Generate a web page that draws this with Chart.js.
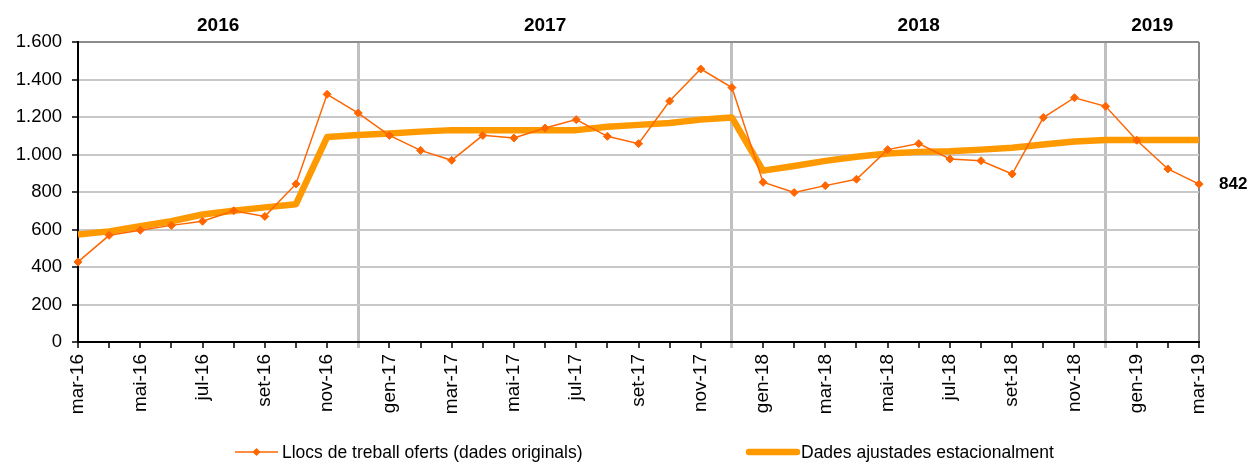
<!DOCTYPE html>
<html>
<head>
<meta charset="utf-8">
<script src="https://cdn.jsdelivr.net/npm/chart.js@4"></script>
<style>
	body { margin: 0; background: #fff; }
	canvas { display: block; }
</style>
</head>
<body>
<canvas id="chart" width="1252" height="464"></canvas>
<script>
const months = [
	'mar-16', 'abr-16', 'mai-16', 'jun-16', 'jul-16', 'ago-16', 'set-16', 'oct-16', 'nov-16', 'des-16',
	'gen-17', 'feb-17', 'mar-17', 'abr-17', 'mai-17', 'jun-17', 'jul-17', 'ago-17', 'set-17', 'oct-17', 'nov-17', 'des-17',
	'gen-18', 'feb-18', 'mar-18', 'abr-18', 'mai-18', 'jun-18', 'jul-18', 'ago-18', 'set-18', 'oct-18', 'nov-18', 'des-18',
	'gen-19', 'feb-19', 'mar-19',
];
const original = [
	427, 569, 596, 622, 644, 700, 670, 843, 1321, 1221,
	1102, 1022, 969, 1102, 1088, 1141, 1186, 1097, 1058, 1285, 1456, 1357,
	852, 797, 834, 868, 1026, 1058, 976, 967, 896, 1197, 1303, 1257,
	1076, 923, 842,
];
const adjusted = [
	573, 590, 617, 644, 680, 700, 718, 735, 1093, 1104,
	1112, 1122, 1130, 1130, 1130, 1130, 1130, 1148, 1158, 1168, 1186, 1197,
	914, 939, 966, 988, 1005, 1014, 1017, 1026, 1036, 1053, 1069, 1077,
	1077, 1077, 1077,
];
const years = ['2016', '2017', '2018', '2019'];
// year boundaries as month indexes (separators sit on des-16, des-17, des-18)
const yearBounds = [0, 9, 21, 33, 36];
const separators = [9, 21, 33];

const FONT = '"Liberation Sans", Arial, sans-serif';
Chart.defaults.font.family = FONT;
Chart.defaults.color = '#000';

function thousands(v) {
	return String(v).replace(/\B(?=(\d{3})+(?!\d))/g, '.');
}

const extras = {
	id: 'extras',
	afterDraw: function(chart) {
		const ctx = chart.ctx;
		const x = chart.scales.x;
		const y = chart.scales.y;
		ctx.save();
		// year labels above the plot
		ctx.font = 'bold 19px ' + FONT;
		ctx.fillStyle = '#000';
		ctx.textAlign = 'center';
		ctx.textBaseline = 'middle';
		for(let i = 0; i < years.length; i++) {
			let a = x.getPixelForValue(yearBounds[i]);
			let b = x.getPixelForValue(yearBounds[i + 1]);
			ctx.fillText(years[i], (a + b) / 2, 26);
		}
		// last value label
		let last = original.length - 1;
		ctx.font = 'bold 17px ' + FONT;
		ctx.textAlign = 'left';
		ctx.fillText(thousands(original[last]), x.getPixelForValue(last) + 20, y.getPixelForValue(original[last]));

		// legend, drawn from the datasets
		const items = [{x: 235, w: 43}, {x: 749, w: 48}];
		const ly = 452;
		ctx.font = '17.5px ' + FONT;
		chart.data.datasets.forEach((ds, i) => {
			let it = items[i];
			ctx.strokeStyle = ds.borderColor;
			ctx.lineWidth = ds.borderWidth;
			ctx.lineCap = i == 1 ? 'round' : 'butt';
			ctx.beginPath();
			ctx.moveTo(it.x, ly);
			ctx.lineTo(it.x + it.w, ly);
			ctx.stroke();
			if(ds.pointRadius > 0) {
				let cx = it.x + it.w / 2;
				let r = ds.pointRadius;
				ctx.fillStyle = ds.pointBackgroundColor;
				ctx.beginPath();
				ctx.moveTo(cx, ly - r);
				ctx.lineTo(cx + r, ly);
				ctx.lineTo(cx, ly + r);
				ctx.lineTo(cx - r, ly);
				ctx.closePath();
				ctx.fill();
			}
			ctx.fillStyle = '#000';
			ctx.textAlign = 'left';
			ctx.fillText(ds.label, it.x + it.w + 4, ly + 1);
		});
		ctx.restore();
	},
};

const config = {
	type: 'line',
	data: {
		labels: months,
		datasets: [{
			label: 'Llocs de treball oferts (dades originals)',
			data: original,
			borderColor: '#FF6600',
			backgroundColor: '#FF6600',
			borderWidth: 1.5,
			pointStyle: 'rectRot',
			pointRadius: 4,
			pointBackgroundColor: '#FF6600',
			pointBorderColor: '#FF6600',
			pointBorderWidth: 1,
			tension: 0,
			fill: false,
		}, {
			label: 'Dades ajustades estacionalment',
			data: adjusted,
			borderColor: '#FF9900',
			backgroundColor: '#FF9900',
			borderWidth: 6.5,
			borderJoinStyle: 'round',
			pointRadius: 0,
			tension: 0,
			fill: false,
		}],
	},
	options: {
		responsive: false,
		animation: false,
		devicePixelRatio: 1,
		layout: {
			padding: {top: 42, right: 53, left: 0, bottom: 0},
		},
		plugins: {
			legend: {display: false},
			tooltip: {enabled: false},
		},
		scales: {
			x: {
				offset: false,
				afterFit: function(scale) {
					scale.height = 122;
				},
				border: {color: '#000', width: 2},
				grid: {
					drawOnChartArea: true,
					tickLength: 6,
					color: (c) => separators.includes(c.index) ? '#c0c0c0' : (c.index == months.length - 1 ? '#8c8c8c' : 'rgba(0,0,0,0)'),
					lineWidth: (c) => separators.includes(c.index) ? 3 : 2,
					tickColor: (c) => separators.includes(c.index) ? '#c0c0c0' : '#000',
					tickWidth: (c) => separators.includes(c.index) ? 3 : 1.5,
				},
				ticks: {
					autoSkip: false,
					maxRotation: 90,
					minRotation: 90,
					padding: 6,
					font: {size: 19},
					color: '#000',
					callback: function(value, index) {
						return index % 2 == 0 ? this.getLabelForValue(value) : '';
					},
				},
			},
			y: {
				min: 0,
				max: 1600,
				afterFit: function(scale) {
					scale.width = 78;
				},
				border: {color: '#000', width: 2},
				grid: {
					tickLength: 6,
					color: (c) => c.tick && c.tick.value == 1600 ? '#8c8c8c' : '#c8c8c8',
					lineWidth: 2,
					tickColor: '#000',
					tickWidth: 1.5,
				},
				ticks: {
					stepSize: 200,
					padding: 10,
					font: {size: 18.5},
					color: '#000',
					callback: (v) => thousands(v),
				},
			},
		},
	},
	plugins: [extras],
};

new Chart(document.getElementById('chart').getContext('2d'), config);
</script>
</body>
</html>
